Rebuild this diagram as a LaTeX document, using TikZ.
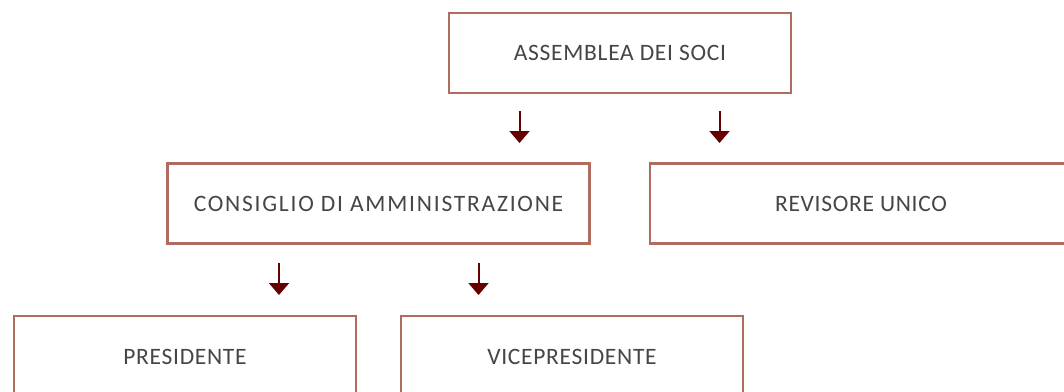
\documentclass[tikz,border=0pt]{standalone}
\usepackage{fontspec}
\setmainfont{Carlito}[LetterSpace=3]
\usetikzlibrary{arrows.meta}
\definecolor{boxline}{RGB}{176,108,94}
\definecolor{arrowred}{RGB}{102,0,0}
\definecolor{txt}{RGB}{70,70,70}
\tikzset{
  orgbox/.style={draw=boxline, line width=2.5pt, fill=white, text=txt, inner sep=0pt,
    font=\fontsize{23.5}{28}\selectfont},
  widetext/.style={font=\fontsize{23.5}{28}\selectfont\addfontfeature{LetterSpace=7.5}},
  downarrow/.style={draw=arrowred, line width=2pt, -{Triangle[width=20pt,length=12pt]}, arrowred}
}
\begin{document}
\begin{tikzpicture}[x=1pt,y=-1pt]
\clip (0,0) rectangle (1064,391);
\fill[white] (0,0) rectangle (1064,391);
\node[orgbox, minimum width=342pt, minimum height=80pt] (assemblea) at (620,53) {ASSEMBLEA DEI SOCI};
\node[orgbox, widetext, minimum width=422pt, minimum height=80pt] (consiglio) at (378.5,203.5) {CONSIGLIO DI AMMINISTRAZIONE};
\node[orgbox, minimum width=422pt, minimum height=80pt] (revisore) at (861,203.5) {REVISORE UNICO};
\node[orgbox, minimum width=342pt, minimum height=82pt] (presidente) at (185,357) {PRESIDENTE};
\node[orgbox, minimum width=342pt, minimum height=82pt] (vice) at (572,357) {VICEPRESIDENTE};
\coordinate (a1s) at (519.5,111); \coordinate (a1e) at (519.5,143);
\coordinate (a2s) at (719.5,111); \coordinate (a2e) at (719.5,143);
\coordinate (a3s) at (279,263); \coordinate (a3e) at (279,295);
\coordinate (a4s) at (478.5,263); \coordinate (a4e) at (478.5,295);
\draw[downarrow] (a1s) -- (a1e);
\draw[downarrow] (a2s) -- (a2e);
\draw[downarrow] (a3s) -- (a3e);
\draw[downarrow] (a4s) -- (a4e);
\end{tikzpicture}
\end{document}
